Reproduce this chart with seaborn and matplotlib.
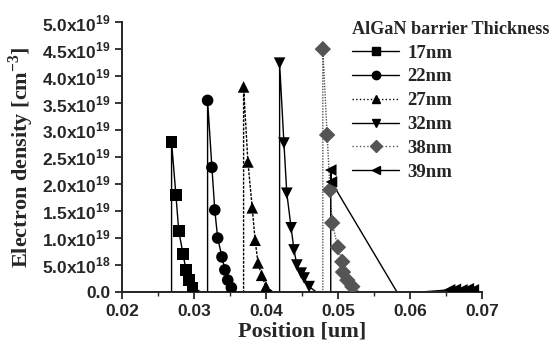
import pandas as pd
import seaborn as sns
import matplotlib.pyplot as plt
from matplotlib.lines import Line2D
from matplotlib.ticker import MultipleLocator

# Electron density profiles (position in um, density in cm^-3)
series = ['17nm', '22nm', '27nm', '32nm', '38nm', '39nm']

x_17 = [0.020, 0.0269, 0.0269, 0.0275, 0.0279, 0.0285, 0.0289, 0.0293, 0.0298, 0.0310]
y_17 = [0, 0, 2.78e19, 1.80e19, 1.13e19, 0.70e19, 0.41e19, 0.22e19, 0.08e19, 0]

x_22 = [0.020, 0.0319, 0.0319, 0.0325, 0.0329, 0.0333, 0.0339, 0.0343, 0.0347, 0.0352, 0.0360]
y_22 = [0, 0, 3.55e19, 2.31e19, 1.52e19, 1.00e19, 0.65e19, 0.41e19, 0.22e19, 0.08e19, 0]

x_27 = [0.020, 0.0369, 0.0369, 0.0375, 0.0381, 0.0385, 0.0389, 0.0394, 0.0400, 0.0410]
y_27 = [0, 0, 3.80e19, 2.41e19, 1.56e19, 0.96e19, 0.54e19, 0.31e19, 0.10e19, 0]

x_32 = [0.020, 0.0419, 0.0419, 0.0425, 0.0429, 0.0435, 0.0439, 0.0443, 0.0449, 0.0453, 0.0460, 0.0470]
y_32 = [0, 0, 4.24e19, 2.76e19, 1.83e19, 1.19e19, 0.78e19, 0.50e19, 0.35e19, 0.26e19, 0.10e19, 0]

x_38 = [0.020, 0.0479, 0.0479, 0.0485, 0.0489, 0.0492, 0.0500, 0.0506, 0.0507, 0.0513, 0.0520, 0.0530]
y_38 = [0, 0, 4.50e19, 2.91e19, 1.89e19, 1.28e19, 0.83e19, 0.56e19, 0.37e19, 0.22e19, 0.10e19, 0]

x_39 = [0.020, 0.0490, 0.0490, 0.0491, 0.0582, 0.0615, 0.0655, 0.0663, 0.0672, 0.0681, 0.0688]
y_39 = [0, 0, 2.26e19, 2.04e19, 0, 0, 0.04e19, 0.05e19, 0.04e19, 0.06e19, 0.04e19]

x_ticks = [0.02, 0.03, 0.04, 0.05, 0.06, 0.07]
x_tick_labels = ['0.02', '0.03', '0.04', '0.05', '0.06', '0.07']
y_ticks = [0, 5e18, 1e19, 1.5e19, 2e19, 2.5e19, 3e19, 3.5e19, 4e19, 4.5e19, 5e19]
y_tick_labels = ['0.0', r'5.0x10$^{\mathsf{18}}$'] + [
    f'{v}x10' + r'$^{\mathsf{19}}$' for v in ['1.0', '1.5', '2.0', '2.5', '3.0', '3.5', '4.0', '4.5', '5.0']]

frames = []
for name, xs, ys in zip(series, [x_17, x_22, x_27, x_32, x_38, x_39],
                        [y_17, y_22, y_27, y_32, y_38, y_39]):
    frames.append(pd.DataFrame({'Position': xs, 'Density': ys, 'Thickness': name}))
df = pd.concat(frames, ignore_index=True)

colors = {'17nm': 'black', '22nm': 'black', '27nm': 'black',
          '32nm': 'black', '38nm': '#555555', '39nm': 'black'}
markers = {'17nm': 's', '22nm': 'o', '27nm': '^', '32nm': 'v', '38nm': 'D', '39nm': '<'}
dashes = {'17nm': '', '22nm': '', '27nm': (2, 1), '32nm': '', '38nm': (1, 1), '39nm': ''}

sns.set_theme(style='ticks')
plt.rcParams['font.family'] = ['Liberation Sans', 'DejaVu Sans']
plt.rcParams['font.weight'] = 'bold'
plt.rcParams['mathtext.fontset'] = 'custom'
plt.rcParams['mathtext.sf'] = 'Liberation Sans:bold'
plt.rcParams['mathtext.bf'] = 'Liberation Serif:bold'
plt.rcParams['mathtext.rm'] = 'Liberation Sans:bold'

fig = plt.figure(figsize=(5.54, 3.46), dpi=100)
ax = fig.add_axes([0.220, 0.156, 0.650, 0.780])

sns.lineplot(data=df, x='Position', y='Density', hue='Thickness', style='Thickness',
             palette=colors, dashes=dashes, sort=False, estimator=None,
             legend=False, linewidth=1.0, ax=ax)
sns.scatterplot(data=df[df['Density'] > 0], x='Position', y='Density', hue='Thickness',
                style='Thickness', palette=colors, markers=markers, s=70,
                linewidth=0, legend=False, ax=ax, zorder=3)

ax.set_xlim(0.02, 0.07)
ax.set_ylim(0, 5e19)
ax.set_xticks(x_ticks)
ax.set_xticklabels(x_tick_labels)
ax.xaxis.set_minor_locator(MultipleLocator(0.005))
ax.set_yticks(y_ticks)
ax.set_yticklabels(y_tick_labels)
ax.tick_params(axis='both', which='major', direction='out', length=5, width=1.3, labelsize=12.5)
ax.tick_params(axis='x', which='minor', direction='out', length=3, width=1.0)
for s in ['left', 'bottom']:
    ax.spines[s].set_linewidth(1.4)
sns.despine(ax=ax)

serif = {'family': 'Liberation Serif', 'weight': 'bold'}
ax.set_xlabel('Position [um]', fontdict=serif, fontsize=16, labelpad=2)
ax.set_ylabel(r'Electron density [cm$^{\mathbf{-3}}$]', fontdict=serif, fontsize=16, labelpad=4)

handles = [Line2D([0], [0], color=colors[n], marker=markers[n], markersize=6, lw=1.0,
                  ls='-' if dashes[n] == '' else ':') for n in series]
fig.legend(handles, series, loc='upper left', bbox_to_anchor=(0.622, 0.962),
           frameon=False, title='AlGaN barrier Thickness', alignment='left',
           prop={'family': 'Liberation Serif', 'weight': 'bold', 'size': 13.5},
           title_fontproperties={'family': 'Liberation Serif', 'weight': 'bold', 'size': 13.1},
           handlelength=2.5, handletextpad=0.45, labelspacing=0.36, borderaxespad=0)

fig.savefig('out.png', dpi=100)
